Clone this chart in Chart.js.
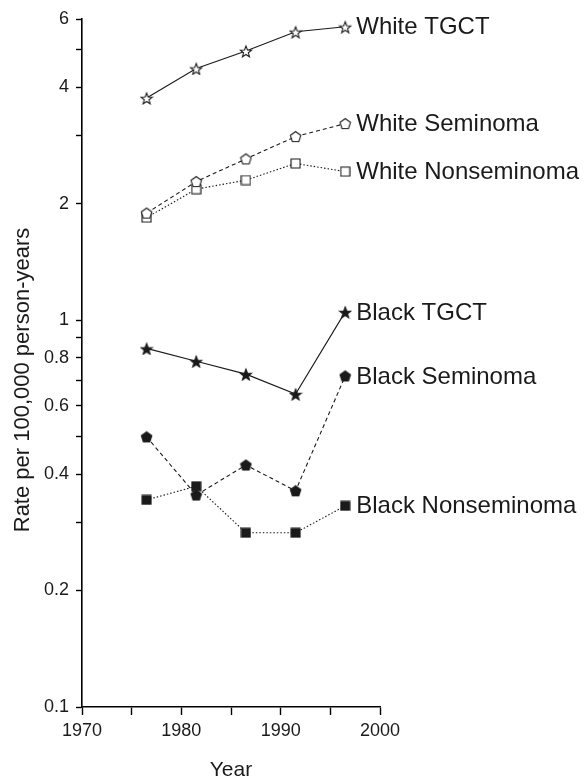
<!DOCTYPE html>
<html>
<head>
<meta charset="utf-8">
<script src="https://cdn.jsdelivr.net/npm/chart.js@4.4.0/dist/chart.umd.min.js"></script>
<style>
  html, body { margin: 0; padding: 0; background: #fff; }
  #wrap { width: 588px; height: 780px; }
</style>
</head>
<body>
<div id="wrap"><canvas id="chart" width="588" height="780"></canvas></div>
<script>
  const years = [1976.5, 1981.5, 1986.5, 1991.5, 1996.5];
  const whiteTgct = [3.75, 4.47, 4.96, 5.56, 5.73];
  const whiteSeminoma = [1.89, 2.28, 2.61, 2.98, 3.22];
  const whiteNonseminoma = [1.84, 2.18, 2.30, 2.54, 2.42];
  const blackTgct = [0.845, 0.783, 0.725, 0.644, 1.05];
  const blackSeminoma = [0.499, 0.353, 0.422, 0.362, 0.717];
  const blackNonseminoma = [0.343, 0.372, 0.282, 0.282, 0.331];

  const yTicks = [0.1, 0.2, 0.3, 0.4, 0.5, 0.6, 0.7, 0.8, 0.9, 1, 2, 3, 4, 5, 6];
  const yTickLabels = ['0.1', '0.2', '', '0.4', '', '0.6', '', '0.8', '', '1', '2', '', '4', '', '6'];
  const xTicks = [1970, 1975, 1980, 1985, 1990, 1995, 2000];
  const xTickLabels = ['1970', '', '1980', '', '1990', '', '2000'];
  const yTitle = 'Rate per 100,000 person-years';

  const INK = '#1a1a1a';
  const FONT = 'Arial, "Liberation Sans", Helvetica, sans-serif';

  // small canvases used as point styles (Chart.js star is a cross, not a 5-point star)
  function marker(shape, filled, size) {
    const c = document.createElement('canvas');
    c.width = size;
    c.height = size;
    const g = c.getContext('2d');
    const cx = size / 2;
    const cy = size / 2;
    const r = size / 2 - 1;
    g.beginPath();
    if (shape === 'star') {
      for (let i = 0; i < 10; i++) {
        const a = -Math.PI / 2 + i * Math.PI / 5;
        const rr = i % 2 ? r * 0.42 : r;
        g.lineTo(cx + rr * Math.cos(a), cy + 1 + rr * Math.sin(a));
      }
    } else if (shape === 'pentagon') {
      for (let i = 0; i < 5; i++) {
        const a = -Math.PI / 2 + i * 2 * Math.PI / 5;
        g.lineTo(cx + r * Math.cos(a), cy + 0.5 + r * Math.sin(a));
      }
    } else {
      g.rect(1, 1, size - 2, size - 2);
    }
    g.closePath();
    g.fillStyle = filled ? INK : '#fff';
    g.fill();
    g.lineWidth = 1.1;
    g.strokeStyle = INK;
    g.stroke();
    return c;
  }

  const series = [
    ['White TGCT', whiteTgct, marker('star', false, 14), []],
    ['White Seminoma', whiteSeminoma, marker('pentagon', false, 13), [4, 3]],
    ['White Nonseminoma', whiteNonseminoma, marker('square', false, 11), [1.5, 2]],
    ['Black TGCT', blackTgct, marker('star', true, 14), []],
    ['Black Seminoma', blackSeminoma, marker('pentagon', true, 13), [4, 3]],
    ['Black Nonseminoma', blackNonseminoma, marker('square', true, 11), [1.5, 2]],
  ];

  // series names written next to their last point, plus the y title
  const endLabels = {
    id: 'endLabels',
    afterDatasetsDraw(chart) {
      const { ctx } = chart;
      ctx.save();
      ctx.font = `24px ${FONT}`;
      ctx.fillStyle = INK;
      ctx.textBaseline = 'middle';
      ctx.textAlign = 'left';
      chart.data.datasets.forEach((ds, i) => {
        const pts = chart.getDatasetMeta(i).data;
        const last = pts[pts.length - 1];
        ctx.fillText(ds.label, last.x + 11, last.y + 1);
      });
      ctx.restore();
    },
    afterDraw(chart) {
      const { ctx } = chart;
      ctx.save();
      ctx.translate(23, 380);
      ctx.rotate(-Math.PI / 2);
      ctx.font = `22px ${FONT}`;
      ctx.fillStyle = INK;
      ctx.textAlign = 'center';
      ctx.textBaseline = 'middle';
      ctx.fillText(yTitle, 0, 0);
      ctx.restore();
    },
  };

  new Chart(document.getElementById('chart'), {
    type: 'line',
    data: {
      datasets: series.map(([label, values, style, dash]) => ({
        label,
        data: years.map((x, i) => ({ x, y: values[i] })),
        borderColor: INK,
        borderWidth: 1.1,
        borderDash: dash,
        pointStyle: style,
        pointRadius: 6,
        tension: 0,
        fill: false,
      })),
    },
    plugins: [endLabels],
    options: {
      responsive: false,
      animation: false,
      layout: { padding: { top: 19, right: 208, left: 0, bottom: 0 } },
      plugins: { legend: { display: false }, tooltip: { enabled: false } },
      scales: {
        x: {
          type: 'linear',
          min: 1970,
          max: 2000,
          afterBuildTicks: (scale) => { scale.ticks = xTicks.map((value) => ({ value })); },
          afterFit: (scale) => { scale.height = 73; },
          border: { color: '#000', width: 1.6 },
          grid: { drawOnChartArea: false, tickLength: 8, color: '#000', tickWidth: 1.4 },
          ticks: {
            color: INK,
            font: { family: FONT, size: 18 },
            padding: 5,
            maxRotation: 0,
            callback: (value) => xTickLabels[xTicks.indexOf(value)] ?? '',
          },
          title: {
            display: true,
            text: 'Year',
            color: INK,
            font: { family: FONT, size: 21, lineHeight: 1 },
            padding: { top: 0, bottom: -1 },
          },
        },
        y: {
          type: 'logarithmic',
          min: 0.1,
          max: 6,
          afterBuildTicks: (scale) => { scale.ticks = yTicks.map((value) => ({ value })); },
          afterFit: (scale) => { scale.width = 82; },
          border: { color: '#000', width: 1.6 },
          grid: { drawOnChartArea: false, tickLength: 6, color: '#000', tickWidth: 1.4 },
          ticks: {
            color: INK,
            font: { family: FONT, size: 18 },
            padding: 7,
            autoSkip: false,
            callback: (value) => yTickLabels[yTicks.indexOf(value)] ?? '',
          },
        },
      },
    },
  });
</script>
</body>
</html>
